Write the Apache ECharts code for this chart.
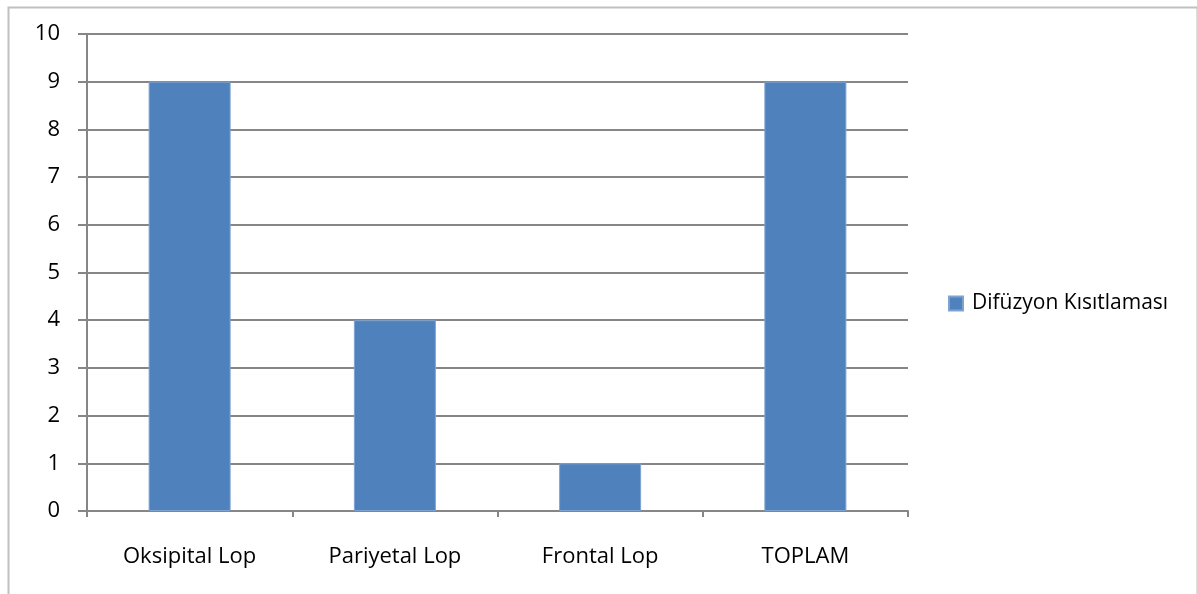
<!DOCTYPE html>
<html>
<head>
<meta charset="utf-8">
<script src="https://cdn.jsdelivr.net/npm/echarts@6/dist/echarts.min.js"></script>
<style>
html,body{margin:0;padding:0;background:#fff;}
#c{width:1197px;height:594px;}
</style>
</head>
<body>
<div id="c"></div>
<script>
const categories = ['Oksipital Lop', 'Pariyetal Lop', 'Frontal Lop', 'TOPLAM'];
const seriesName = 'Difüzyon Kısıtlaması';
const values = [9, 4, 1, 9];

const chart = echarts.init(document.getElementById('c'), null, {renderer: 'canvas'});
const font = 'Open Sans';
chart.setOption({
  animation: false,
  backgroundColor: '#fff',
  graphic: [{
    type: 'rect', left: 6, top: 5,
    shape: {width: 1189, height: 600},
    style: {fill: 'none', stroke: '#c0c0c0', lineWidth: 2},
    silent: true
  }],
  grid: {left: 87, top: 34, right: 289, bottom: 83, containLabel: false},
  legend: {
    left: 943, top: 288, orient: 'vertical',
    itemWidth: 14, itemHeight: 14, icon: 'rect', itemGap: 8,
    textStyle: {fontFamily: font, fontSize: 21, color: '#000', padding: [3, 0, 0, 4]},
    data: [seriesName]
  },
  xAxis: {
    type: 'category', data: categories,
    axisLine: {lineStyle: {color: '#868686', width: 2}},
    axisTick: {show: true, length: 6, alignWithLabel: false, lineStyle: {color: '#868686', width: 2}},
    axisLabel: {fontFamily: font, fontSize: 22, color: '#000', margin: 35}
  },
  yAxis: {
    type: 'value', min: 0, max: 10, interval: 1,
    axisLine: {show: true, lineStyle: {color: '#868686', width: 2}},
    axisTick: {show: true, length: 9, lineStyle: {color: '#868686', width: 2}},
    splitLine: {lineStyle: {color: '#868686', width: 2}},
    axisLabel: {fontFamily: font, fontSize: 22, color: '#000', margin: 27}
  },
  series: [{
    name: seriesName, type: 'bar', data: values, barWidth: 82,
    itemStyle: {color: '#4F81BD', borderColor: '#7fa3d1', borderWidth: 1}
  }]
});
</script>
</body>
</html>
